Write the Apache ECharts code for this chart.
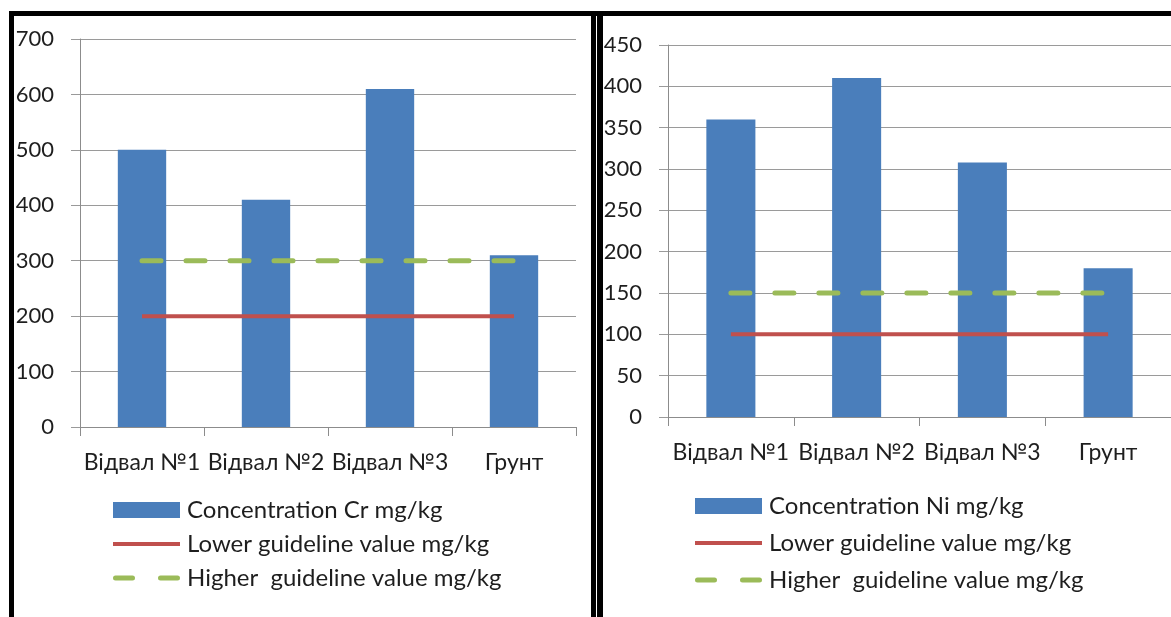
<!DOCTYPE html>
<html>
<head>
<meta charset="utf-8">
<script src="https://cdn.jsdelivr.net/npm/echarts@6/dist/echarts.min.js"></script>
<style>
  html, body { margin: 0; padding: 0; background: #ffffff; }
  #chart { width: 1171px; height: 617px; }
</style>
</head>
<body>
<div id="chart"></div>
<script>
// ---- data ----
const categories = ['Відвал №1', 'Відвал №2', 'Відвал №3', 'Грунт'];
const crValues = [500, 410, 610, 310];
const crLower = [200, 200, 200, 200];
const crHigher = [300, 300, 300, 300];
const niValues = [360, 410, 308, 180];
const niLower = [100, 100, 100, 100];
const niHigher = [150, 150, 150, 150];
const crTicks = { min: 0, max: 700, interval: 100 };
const niTicks = { min: 0, max: 450, interval: 50 };
const nameCr = 'Concentration Cr mg/kg';
const nameNi = 'Concentration Ni mg/kg';
const nameLower = 'Lower guideline value mg/kg';
const nameHigher = 'Higher  guideline value mg/kg';

// ---- styles ----
const FONT = 'Lato, "Open Sans", sans-serif';
const TXT = '#1e1e1e';
const BLUE = '#4a7ebb';
const RED = '#c0504d';
const GREEN = '#9bbb59';
const GRID_C = '#9a9a9a';
const ICON_BAR = 'rect';
const ICON_SOLID = 'path://M0,0H67V4H0Z';
const ICON_DASH = 'path://M2.5,0H19.5A2.5,2.5 0 0 1 19.5,5H2.5A2.5,2.5 0 0 1 2.5,0Z M47.5,0H64.5A2.5,2.5 0 0 1 64.5,5H47.5A2.5,2.5 0 0 1 47.5,0Z';

const chart = echarts.init(document.getElementById('chart'), null, { renderer: 'canvas' });

function xAxis(gridIndex) {
  return {
    type: 'category', gridIndex, data: categories, boundaryGap: true,
    axisLine: { show: true, lineStyle: { color: '#8c8c8c', width: 1 } },
    axisTick: { show: true, alignWithLabel: false, length: 9, lineStyle: { color: '#8c8c8c' } },
    axisLabel: { color: TXT, fontFamily: FONT, fontSize: 23, margin: 24, interval: 0, hideOverlap: false }
  };
}
function yAxis(gridIndex, t) {
  return {
    type: 'value', gridIndex, min: t.min, max: t.max, interval: t.interval,
    axisLine: { show: true, lineStyle: { color: '#8c8c8c', width: 1 } },
    axisTick: { show: true, length: 9, lineStyle: { color: GRID_C } },
    splitLine: { show: true, lineStyle: { color: GRID_C, width: 1 } },
    axisLabel: { color: TXT, fontFamily: FONT, fontSize: 22, margin: 26 }
  };
}
function barSeries(name, data, idx) {
  return {
    type: 'bar', name, data, xAxisIndex: idx, yAxisIndex: idx,
    barWidth: '39%', itemStyle: { color: BLUE }, z: 2, silent: true
  };
}
function lowerSeries(data, idx) {
  return {
    type: 'line', name: nameLower, data, xAxisIndex: idx, yAxisIndex: idx,
    symbol: 'none', showSymbol: false, z: 3, silent: true,
    itemStyle: { color: RED },
    lineStyle: { color: RED, width: 4 }
  };
}
function higherSeries(data, idx) {
  return {
    type: 'line', name: nameHigher, data, xAxisIndex: idx, yAxisIndex: idx,
    symbol: 'none', showSymbol: false, z: 4, silent: true,
    itemStyle: { color: GREEN },
    lineStyle: { color: GREEN, width: 5, type: [19, 25], cap: 'round' }
  };
}
function legend(left, top, barName, gap) {
  return {
    left, top, orient: 'vertical', itemWidth: 67, itemHeight: 16, itemGap: gap,
    padding: 0, selectedMode: false, symbolKeepAspect: true,
    data: [
      { name: barName, icon: ICON_BAR },
      { name: nameLower, icon: ICON_SOLID, itemStyle: { color: RED, borderWidth: 0 } },
      { name: nameHigher, icon: ICON_DASH, itemStyle: { color: GREEN, borderWidth: 0 } }
    ],
    textStyle: { color: TXT, fontFamily: FONT, fontSize: 24, lineHeight: 26, padding: [0, 0, 0, 2] }
  };
}

const option = {
  animation: false,
  backgroundColor: '#ffffff',
  grid: [
    { left: 80, top: 39, width: 496, height: 388 },
    { left: 668, top: 45, width: 511, height: 372 }
  ],
  xAxis: [xAxis(0), xAxis(1)],
  yAxis: [yAxis(0, crTicks), yAxis(1, niTicks)],
  legend: [
    legend(113, 497, nameCr, 8),
    legend(695, 493, nameNi, 11)
  ],
  series: [
    barSeries(nameCr, crValues, 0),
    lowerSeries(crLower, 0),
    higherSeries(crHigher, 0),
    barSeries(nameNi, niValues, 1),
    lowerSeries(niLower, 1),
    higherSeries(niHigher, 1)
  ],
  graphic: [
    // left panel frame
    { type: 'rect', shape: { x: 9, y: 11, width: 588, height: 5 }, style: { fill: '#000' }, silent: true },
    { type: 'rect', shape: { x: 9, y: 11, width: 5, height: 606 }, style: { fill: '#000' }, silent: true },
    { type: 'rect', shape: { x: 591, y: 11, width: 5, height: 606 }, style: { fill: '#000' }, silent: true },
    // right panel frame
    { type: 'rect', shape: { x: 597, y: 11, width: 574, height: 5 }, style: { fill: '#000' }, silent: true },
    { type: 'rect', shape: { x: 597, y: 11, width: 6, height: 606 }, style: { fill: '#000' }, silent: true }
  ]
};
chart.setOption(option);
</script>
</body>
</html>
